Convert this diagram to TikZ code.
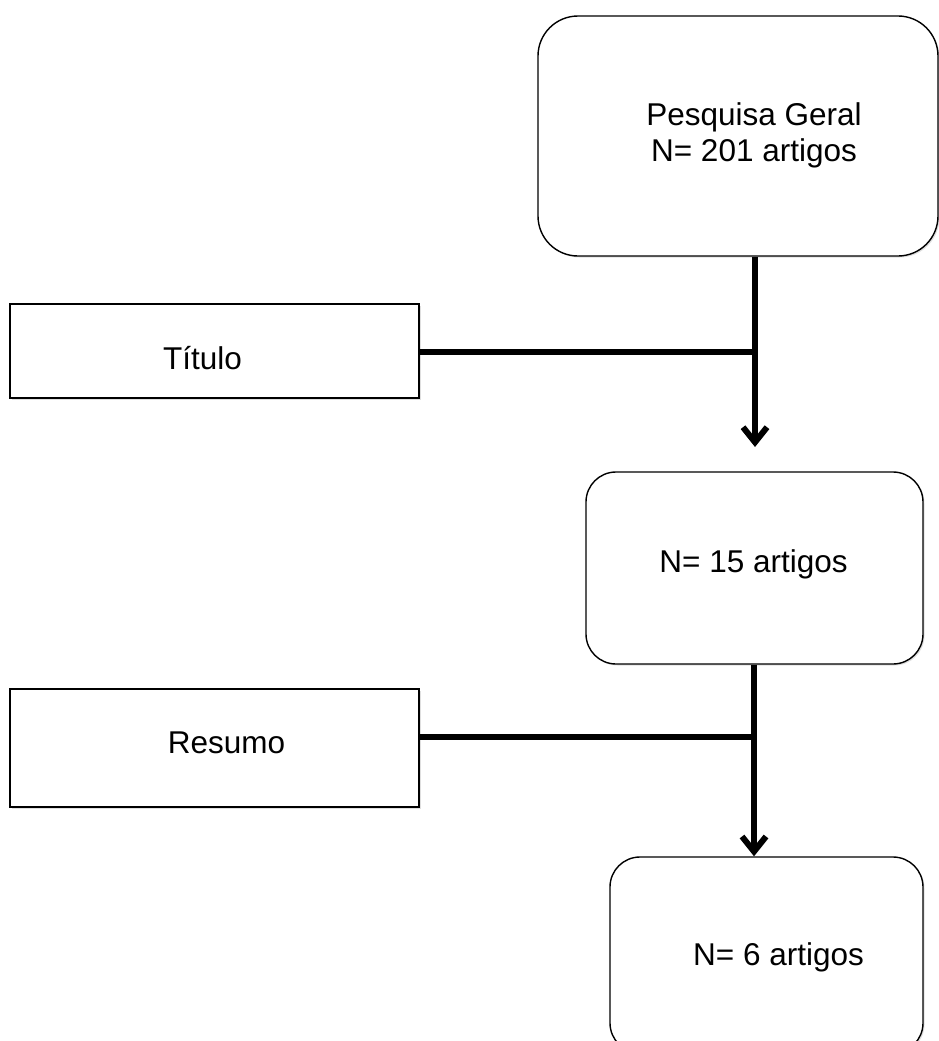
\documentclass[tikz,border=0pt]{standalone}
\usepackage{fontspec}
\setmainfont{Liberation Sans}
\usetikzlibrary{arrows.meta,shadows}
\tikzset{
  box/.style={draw=black, line width=1.4pt, fill=white, inner sep=0pt,
    drop shadow={shadow xshift=1.5pt, shadow yshift=-1.5pt, opacity=0.25}},
  rbox/.style={box, rounded corners=30pt},
  conn/.style={line width=6pt, black},
  arr/.style={conn, -{Straight Barb[length=15pt,width=24pt]}},
  txt/.style={font=\fontsize{31.5}{36}\selectfont, align=center}
}
\begin{document}
\begin{tikzpicture}[x=1pt,y=-1pt]
\useasboundingbox (0,0) rectangle (939,1041);
% boxes
\node[rbox, rounded corners=40pt, minimum width=400pt, minimum height=240pt,
  label={[txt, xshift=16pt, yshift=1pt]center:Pesquisa Geral\\N= 201 artigos}] (b1) at (738,136) {};
\node[box, minimum width=409pt, minimum height=94pt,
  label={[txt, xshift=-12pt, yshift=-7pt]center:Título}] (t) at (214.5,351) {};
\node[rbox, minimum width=337pt, minimum height=192pt,
  label={[txt, xshift=-1pt, yshift=4pt]center:N= 15 artigos}] (b2) at (754.5,568) {};
\node[box, minimum width=409pt, minimum height=118pt,
  label={[txt, xshift=12pt, yshift=5pt]center:Resumo}] (r) at (214.5,748) {};
\node[rbox, minimum width=313pt, minimum height=196pt,
  label={[txt, xshift=12pt, yshift=-2pt]center:N= 6 artigos}] (b3) at (766.5,955) {};
% connectors
\coordinate (j1) at (755,352);
\coordinate (e1) at (755,447);
\coordinate (j2) at (754,737);
\draw[conn] (t.east |- j1) -- (j1);
\draw[arr] (b1.south -| j1) -- (e1);
\draw[conn] (r.east |- j2) -- (j2);
\draw[arr] (b2.south -| j2) -- (b3.north -| j2);
\end{tikzpicture}
\end{document}
